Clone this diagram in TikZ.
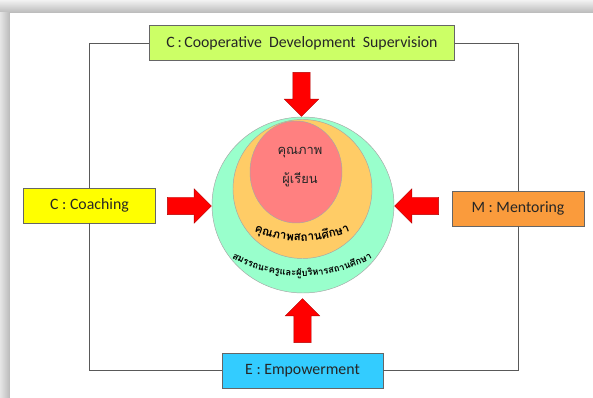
\documentclass[tikz,border=0pt]{standalone}
\usepackage{fontspec}
\setmainfont{Carlito}
\newfontfamily\thaifont[Script=Thai]{Loma}
\usetikzlibrary{shapes.arrows,shapes.geometric,decorations.text}

\definecolor{supgreen}{RGB}{204,255,102}
\definecolor{coachyellow}{RGB}{255,255,0}
\definecolor{mentororange}{RGB}{250,155,60}
\definecolor{empowercyan}{RGB}{51,204,255}
\definecolor{ringgreen}{RGB}{153,255,204}
\definecolor{ringorange}{RGB}{255,204,102}
\definecolor{ringred}{RGB}{255,128,128}

\tikzset{
  modelbox/.style={draw=gray!80!black, line width=0.5pt, minimum height=1.05cm,
    inner sep=0pt, font=\fontsize{13.5}{15}\selectfont, text=black!85},
  pusharrow/.style={single arrow, draw=red!70!black, fill=red, line width=0.3pt,
    inner xsep=0pt, inner ysep=0.255cm, single arrow head extend=0.255cm,
    minimum height=1.32cm},
  ring/.style={draw=gray!70, line width=0.4pt},
  frameline/.style={draw=gray!70!black, line width=0.8pt}
}

\begin{document}
\begin{tikzpicture}[x=0.03cm, y=0.03cm]
        \useasboundingbox (0,0) rectangle (593,398);

        % Frame with shadow
        \fill[gray!35] (0,0) rectangle (593,398);
        \shade[top color=gray!10, bottom color=gray!55] (0,385) rectangle (593,398);
        \shade[left color=gray!20, right color=gray!55] (0,0) rectangle (10,385);
        \fill[white] (10,0) rectangle (593,385);

        % Define boxes
        \node [modelbox, fill=supgreen, minimum width=9.15cm] (super) at (302,355)
          {C\,:\,Cooperative\ \ Development\ \ Supervision};
        \node [modelbox, fill=coachyellow, minimum width=3.96cm] (coach) at (89.5,192.5) {C : Coaching};
        \node [modelbox, fill=mentororange, minimum width=3.96cm] (mentor) at (518,189.5) {M : Mentoring};
        \node [modelbox, fill=empowercyan, minimum width=4.83cm] (empower) at (302.5,27.5) {E : Empowerment};

        % Lines joining the boxes
        \draw [frameline] (coach.north) |- (super.west);
        \draw [frameline] (super.east) -| (mentor.north);
        \draw [frameline] (mentor.south) |- (empower.east);
        \draw [frameline] (empower.west) -| (coach.south);

        % Circles
        \node [ring, fill=ringgreen, ellipse, minimum width=5.46cm, minimum height=5.28cm] (outer) at (303,193) {};
        \node [ring, fill=ringorange, circle, minimum size=4.17cm] (middle) at (302.5,209) {};
        \node [ring, fill=ringred, ellipse, minimum width=2.76cm, minimum height=3.06cm] (inner) at (296,226) {};

        \node [font=\thaifont\fontsize{11}{13}\selectfont, text=black!85] (learner1) at (300,245) {คุณภาพ};
        \node [font=\thaifont\fontsize{11}{13}\selectfont, text=black!85] (learner2) at (300,218) {ผู้เรียน};

        \path [decorate, decoration={text along path, text align=center,
          text={|\thaifont\bfseries\fontsize{10}{12}\selectfont|{คุ}ณภาพสถาน{ศึ}กษา}}]
          (302,282) ++(235:125) arc[start angle=235, end angle=305, radius=125];
        \path [decorate, decoration={text along path, text align=center,
          text={|\thaifont\bfseries\fontsize{8}{10}\selectfont|สมรรถนะค{รู}และ{ผู้}บ{ริ}หารสถาน{ศึ}กษา}}]
          (302,270) ++(230:148) arc[start angle=230, end angle=310, radius=148];

        % Arrows pointing in
        \node [pusharrow, rotate=-90] (toparrow) at (301.5,308) {};
        \node [pusharrow] (leftarrow) at (185,192) {};
        \node [pusharrow, rotate=180] (rightarrow) at (421,192) {};
        \node [pusharrow, rotate=90] (bottomarrow) at (302.5,73) {};
    \end{tikzpicture}
\end{document}
